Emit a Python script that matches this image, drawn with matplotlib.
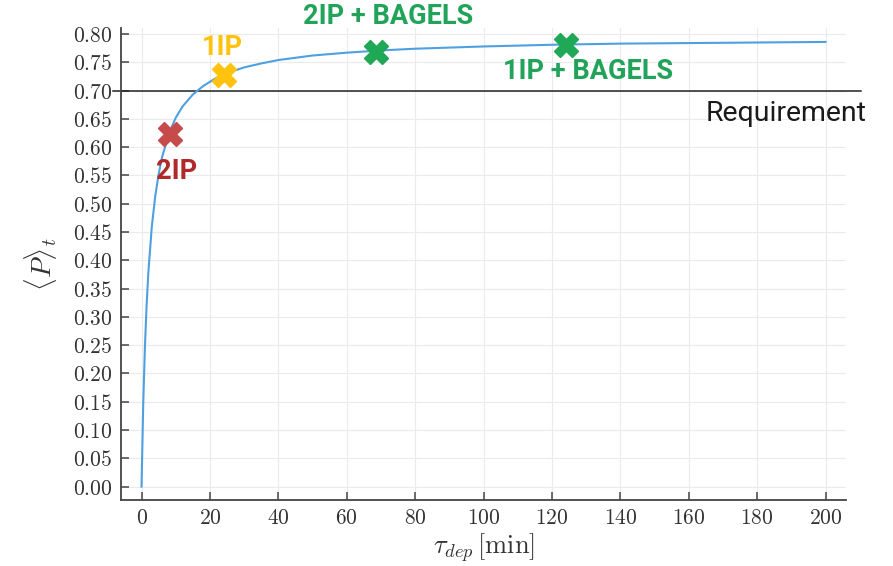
import matplotlib
matplotlib.use("Agg")
import matplotlib.pyplot as plt
from matplotlib.ticker import FuncFormatter, MultipleLocator

plt.rcParams["mathtext.fontset"] = "cm"

# curve
tau = [0, 0.5, 1, 1.5, 2, 3, 4, 5, 6, 8, 10, 12, 15, 18, 22, 26, 30, 35, 40,
       50, 60, 70, 80, 100, 120, 140, 160, 180, 200]
p_mean = [0.0, 0.147, 0.248, 0.322, 0.379, 0.459, 0.513, 0.552, 0.582, 0.624,
          0.652, 0.672, 0.693, 0.708, 0.723, 0.733, 0.741, 0.748, 0.754, 0.762,
          0.767, 0.771, 0.774, 0.778, 0.781, 0.783, 0.784, 0.785, 0.786]

# design points
pt_names = ["2IP", "1IP", "2IP + BAGELS", "1IP + BAGELS"]
pt_tau = [8.3, 24.2, 68.5, 124.0]
pt_p = [0.624, 0.727, 0.768, 0.780]
requirement = 0.70

mk_colors = ["#c84b4b", "#ffc20e", "#1fa855", "#1fa855"]
txt_colors = ["#b12a2a", "#ffc20e", "#22a35a", "#22a35a"]
txt_offsets = [(7, -38), (-2, 28), (12, 36), (22, -26)]  # pixels

fig = plt.figure(figsize=(8.93, 5.66), dpi=100)
ax = fig.add_axes([0.1355, 0.1166, 0.9474 - 0.1355, 0.9509 - 0.1166])

ax.plot(tau, p_mean, color="#4fa0e0", lw=1.5, zorder=3)
ax.plot([-8.4, 210.5], [requirement, requirement], color="#222222", lw=1.1,
        clip_on=False, zorder=2)
ax.text(212, requirement - 0.041, "Requirement", fontsize=20.5, family="Roboto",
        color="#1a1a1a", ha="right", va="center", clip_on=False)

for name, x, y, mc, tc, (dx, dy) in zip(pt_names, pt_tau, pt_p, mk_colors,
                                         txt_colors, txt_offsets):
    ax.plot(x, y, marker="X", ms=17, color=mc, mec=mc, zorder=4, clip_on=False)
    ax.annotate(name, (x, y), xytext=(dx, dy), textcoords="offset pixels",
                ha="center", va="center", fontsize=19.5, fontweight="bold",
                family="Roboto", color=tc, annotation_clip=False)

ax.set_xlim(-6, 206)
ax.set_ylim(-0.0236, 0.811)
ax.xaxis.set_major_locator(MultipleLocator(20))
ax.yaxis.set_major_locator(MultipleLocator(0.05))
ax.xaxis.set_major_formatter(FuncFormatter(lambda v, _: f"${v:.0f}$"))
ax.yaxis.set_major_formatter(FuncFormatter(lambda v, _: f"${v:.2f}$"))

for s in ["top", "right"]:
    ax.spines[s].set_visible(False)
for s in ["left", "bottom"]:
    ax.spines[s].set_color("#444444")
    ax.spines[s].set_linewidth(1.3)
ax.tick_params(direction="in", length=6, width=1.1, color="#444444",
               labelsize=15.5, labelcolor="#333333", pad=6)
ax.grid(True, color="#ebebeb", lw=0.8, zorder=0)
ax.set_axisbelow(True)

ax.set_xlabel(r"$\tau_{dep}\,[\mathrm{min}]$", fontsize=19, color="#333333",
              labelpad=2)
ax.set_ylabel(r"$\langle P\rangle_t$", fontsize=20, color="#333333",
              labelpad=10)

fig.savefig("out.png", dpi=100)
